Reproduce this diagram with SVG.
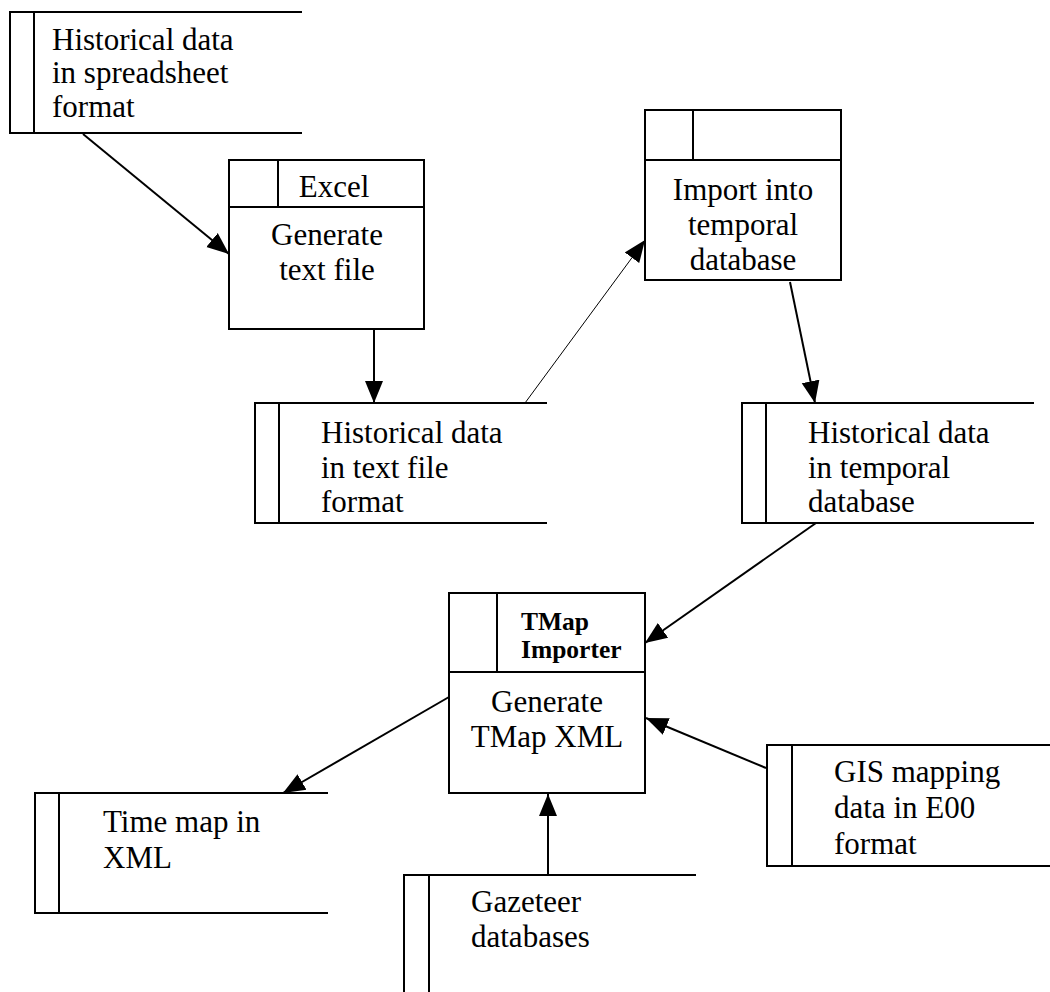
<svg xmlns="http://www.w3.org/2000/svg" width="1050" height="992" viewBox="0 0 1050 992">
<style>
.b{fill:none;stroke:#000;stroke-width:2}
.t{font-family:"Liberation Serif","Times New Roman",serif;font-size:31px;fill:#000}
.c{text-anchor:middle}
.h{font-family:"Liberation Serif","Times New Roman",serif;font-size:25.5px;font-weight:bold;fill:#000}
.a{fill:none;stroke:#000;stroke-width:2}
.a1{fill:none;stroke:#000;stroke-width:1}
</style>
<defs>
<marker id="ah" markerUnits="userSpaceOnUse" markerWidth="24" markerHeight="20" viewBox="0 0 24 20" refX="22" refY="10" orient="auto">
<path d="M0,1 L22,10 L0,19 Z" fill="#000"/>
</marker>
</defs>
<rect width="1050" height="992" fill="#fff"/>
<g id="n1">
<path class="b" d="M302,12 H10 V133 H302 M34,12 V133"/>
<text class="t" x="52" y="50">Historical data</text>
<text class="t" x="52" y="83">in spreadsheet</text>
<text class="t" x="52" y="117">format</text>
</g>
<g id="excel">
<rect class="b" x="229" y="160" width="195" height="169"/>
<path class="b" d="M229,207 H424 M278,160 V207"/>
<text class="t c" x="334" y="197">Excel</text>
<text class="t c" x="327" y="245">Generate</text>
<text class="t c" x="327" y="280">text file</text>
</g>
<g id="import">
<rect class="b" x="645" y="110" width="196" height="170"/>
<path class="b" d="M645,160 H841 M693,110 V160"/>
<text class="t c" x="743" y="200">Import into</text>
<text class="t c" x="743" y="235">temporal</text>
<text class="t c" x="743" y="270">database</text>
</g>
<g id="textstore">
<path class="b" d="M547,403 H255 V523 H547 M279,403 V523"/>
<text class="t" x="321" y="443">Historical data</text>
<text class="t" x="321" y="478">in text file</text>
<text class="t" x="321" y="512">format</text>
</g>
<g id="tempstore">
<path class="b" d="M1034,403 H742 V523 H1034 M766,403 V523"/>
<text class="t" x="808" y="443">Historical data</text>
<text class="t" x="808" y="478">in temporal</text>
<text class="t" x="808" y="512">database</text>
</g>
<g id="tmap">
<rect class="b" x="449" y="593" width="196" height="200"/>
<path class="b" d="M449,672 H645 M497,593 V672"/>
<text class="h" x="521" y="630">TMap</text>
<text class="h" x="521" y="658">Importer</text>
<text class="t c" x="547" y="712">Generate</text>
<text class="t c" x="547" y="747">TMap XML</text>
</g>
<g id="timemap">
<path class="b" d="M328,793 H35 V913 H328 M59,793 V913"/>
<text class="t" x="103" y="832">Time map in</text>
<text class="t" x="103" y="868">XML</text>
</g>
<g id="gazeteer">
<path class="b" d="M696,875 H404 V992 M429,875 V992"/>
<text class="t" x="471" y="912">Gazeteer</text>
<text class="t" x="471" y="947">databases</text>
</g>
<g id="gis">
<path class="b" d="M1050,745 H767 V866 H1050 M792,745 V866"/>
<text class="t" x="834" y="782">GIS mapping</text>
<text class="t" x="834" y="818">data in E00</text>
<text class="t" x="834" y="854">format</text>
</g>
<g id="connectors">
<line class="a" x1="83" y1="134" x2="229" y2="254" marker-end="url(#ah)"/>
<line class="a" x1="374" y1="329" x2="374" y2="403" marker-end="url(#ah)"/>
<line class="a1" x1="525" y1="403" x2="645" y2="240" marker-end="url(#ah)"/>
<line class="a" x1="790" y1="282" x2="815" y2="403" marker-end="url(#ah)"/>
<line class="a" x1="816" y1="523" x2="645" y2="643" marker-end="url(#ah)"/>
<line class="a" x1="449" y1="697" x2="283" y2="793" marker-end="url(#ah)"/>
<line class="a" x1="766" y1="768" x2="646" y2="718" marker-end="url(#ah)"/>
<line class="a" x1="548" y1="875" x2="548" y2="794" marker-end="url(#ah)"/>
</g>
</svg>
